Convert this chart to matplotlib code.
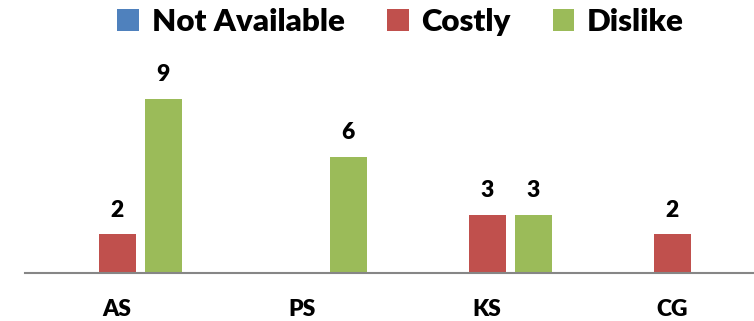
import numpy as np
import matplotlib.pyplot as plt
from matplotlib.patches import Patch

plt.rcParams['font.family'] = ['Lato', 'DejaVu Sans']
plt.rcParams['font.weight'] = 'heavy'

categories = ['AS', 'PS', 'KS', 'CG']
series_names = ['Not Available', 'Costly', 'Dislike']
not_available = [0, 0, 0, 0]
costly = [2, 0, 3, 2]
dislike = [9, 6, 3, 0]
colors = ['#4F81BD', '#C0504D', '#9BBB59']

fig = plt.figure(figsize=(7.54, 3.21), dpi=100)
# axis runs a bit past the right edge of the figure
ax = fig.add_axes([24.5 / 754, 48 / 321, 740.5 / 754, 193 / 321])

x = np.arange(len(categories))
slot = 46 / 185
width = 37 / 185

for i, (vals, col) in enumerate(zip([not_available, costly, dislike], colors)):
    bars = ax.bar(x + (i - 1) * slot, vals, width, color=col, label=series_names[i])
    labels = [str(v) if v else '' for v in vals]
    ax.bar_label(bars, labels=labels, padding=10, fontsize=16.5, fontweight='heavy')

ax.set_xlim(-0.5, 3.5)
ax.set_ylim(0, 10)
ax.set_xticks(x)
ax.set_xticklabels(categories, fontsize=16.5, fontweight='heavy')
ax.tick_params(axis='x', length=0, pad=19)
ax.set_yticks([])
for side in ['top', 'right', 'left']:
    ax.spines[side].set_visible(False)
ax.spines['bottom'].set_color('#868686')
ax.spines['bottom'].set_linewidth(1.5)

handles = [Patch(facecolor=c) for c in colors]
fig.legend(handles, series_names, loc='center', bbox_to_anchor=(400.5 / 754, 1 - 22 / 321),
           ncol=3, frameon=False, prop={'weight': 'heavy', 'size': 22.5},
           handlelength=0.7, handleheight=0.7, handletextpad=0.4, columnspacing=1.35,
           borderaxespad=0, borderpad=0)

fig.savefig('out.png', dpi=100)
